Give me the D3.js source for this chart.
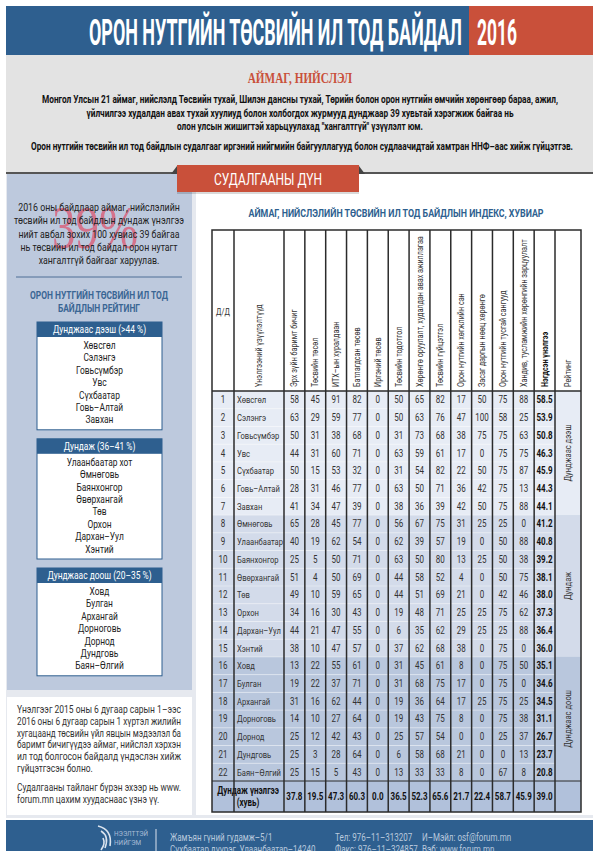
<!DOCTYPE html>
<html>
<head>
<meta charset="utf-8">
<script src="https://cdn.jsdelivr.net/npm/d3@7.9.0/dist/d3.min.js"></script>
<style>
  body { margin: 0; background: #fff; }
  svg { display: block; font-family: Roboto, "Liberation Sans", sans-serif; }
</style>
</head>
<body>
<div id="chart"></div>
<script>
// =========================================
// DATA
// =========================================
const provinces = ["Хөвсгөл", "Сэлэнгэ", "Говьсүмбэр", "Увс", "Сүхбаатар", "Говь–Алтай", "Завхан",
  "Өмнөговь", "Улаанбаатар", "Баянхонгор", "Өвөрхангай", "Төв", "Орхон", "Дархан–Уул", "Хэнтий",
  "Ховд", "Булган", "Архангай", "Дорноговь", "Дорнод", "Дундговь", "Баян–Өлгий"];

const indicators = ["Эрх зүйн баримт бичиг", "Төсвийн төсөл", "ИТХ–ын хуралдаан", "Батлагдсан төсөв",
  "Иргэний төсөв", "Төсвийн тодотгол", "Хөрөнгө оруулалт,  худалдан авах ажиллагаа", "Төсвийн гүйцэтгэл",
  "Орон нутгийн хөгжлийн сан", "Засаг даргын нөөц хөрөнгө", "Орон нутгийн тусгай сангууд",
  "Хандив, тусламжийн хөрөнгийн зарцуулалт"];

const scores = [
  [58, 45, 91, 82, 0, 50, 65, 82, 17, 50, 75, 88],
  [63, 29, 59, 77, 0, 50, 63, 76, 47, 100, 58, 25],
  [50, 31, 38, 68, 0, 31, 73, 68, 38, 75, 75, 63],
  [44, 31, 60, 71, 0, 63, 59, 61, 17, 0, 75, 75],
  [50, 15, 53, 32, 0, 31, 54, 82, 22, 50, 75, 87],
  [28, 31, 46, 77, 0, 63, 50, 71, 36, 42, 75, 13],
  [41, 34, 47, 39, 0, 38, 36, 39, 42, 50, 75, 88],
  [65, 28, 45, 77, 0, 56, 67, 75, 31, 25, 25, 0],
  [40, 19, 62, 54, 0, 62, 39, 57, 19, 0, 50, 88],
  [25, 5, 50, 71, 0, 63, 50, 80, 13, 25, 50, 38],
  [51, 4, 50, 69, 0, 44, 58, 52, 4, 0, 50, 75],
  [49, 10, 59, 65, 0, 44, 51, 69, 21, 0, 42, 46],
  [34, 16, 30, 43, 0, 19, 48, 71, 25, 25, 75, 62],
  [44, 21, 47, 55, 0, 6, 35, 62, 29, 25, 25, 88],
  [38, 10, 47, 57, 0, 37, 62, 68, 38, 0, 75, 0],
  [13, 22, 55, 61, 0, 31, 45, 61, 8, 0, 75, 50],
  [19, 22, 37, 71, 0, 31, 68, 75, 17, 0, 75, 0],
  [31, 16, 62, 44, 0, 19, 36, 64, 17, 25, 75, 25],
  [14, 10, 27, 64, 0, 19, 43, 75, 8, 0, 75, 38],
  [25, 12, 42, 43, 0, 25, 57, 54, 0, 0, 25, 37],
  [25, 3, 28, 64, 0, 6, 58, 68, 21, 0, 0, 13],
  [25, 15, 5, 43, 0, 13, 33, 33, 8, 0, 67, 8]
];

const totals = [58.5, 53.9, 50.8, 46.3, 45.9, 44.3, 44.1, 41.2, 40.8, 39.2, 38.1, 38.0,
  37.3, 36.4, 36.0, 35.1, 34.6, 34.5, 31.1, 26.7, 23.7, 20.8];

const averages = [37.8, 19.5, 47.3, 60.3, 0.0, 36.5, 52.3, 65.6, 21.7, 22.4, 58.7, 45.9, 39.0];

// rating groups: label in table, box title, names listed in the left panel, row count
const ratingGroups = [
  { label: "Дунджаас дээш", title: "Дунджаас дээш (>44 %)", size: 7,
    names: ["Хөвсгөл", "Сэлэнгэ", "Говьсүмбэр", "Увс", "Сүхбаатар", "Говь–Алтай", "Завхан"] },
  { label: "Дундаж", title: "Дундаж (36–41 %)", size: 8,
    names: ["Улаанбаатар хот", "Өмнөговь", "Баянхонгор", "Өвөрхангай", "Төв", "Орхон", "Дархан–Уул", "Хэнтий"] },
  { label: "Дунджаас доош", title: "Дунджаас доош  (20–35 %)", size: 7,
    names: ["Ховд", "Булган", "Архангай", "Дорноговь", "Дорнод", "Дундговь", "Баян–Өлгий"] }
];

const introLines = [
  "Монгол Улсын 21 аймаг, нийслэлд Төсвийн тухай, Шилэн дансны тухай, Төрийн болон орон нутгийн өмчийн хөрөнгөөр бараа, ажил,",
  "үйлчилгээ худалдан авах тухай хуулиуд болон холбогдох журмууд  дунджаар 39 хувьтай хэрэгжиж байгаа нь",
  "олон улсын жишигтэй харьцуулахад \"хангалтгүй\" үзүүлэлт юм."
];
const introNote = "Орон нутгийн төсвийн ил тод байдлын судалгааг иргэний нийгмийн байгууллагууд болон судлаачидтай хамтран ННФ–аас хийж гүйцэтгэв.";

const summaryLines = [
  "2016 оны байдлаар аймаг, нийслэлийн",
  "төсвийн ил тод байдлын дундаж үнэлгээ",
  "нийт авбал зохих 100 хувиас 39 байгаа",
  "нь төсвийн ил тод байдал орон нутагт",
  "хангалтгүй байгааг харуулав."
];

const methodLines = [
  "Үнэлгээг 2015 оны 6 дугаар сарын 1–ээс",
  "2016 оны 6 дугаар сарын 1 хүртэл жилийн",
  "хугацаанд төсвийн үйл явцын мэдээлэл ба",
  "баримт бичигүүдээ аймаг, нийслэл хэрхэн",
  "ил тод болгосон байдалд үндэслэн хийж",
  "гүйцэтгэсэн болно."
];
const linkLines = ["Судалгааны тайланг бүрэн эхээр нь www.", "forum.mn цахим хуудаснаас үзнэ үү."];

const footerCols = [
  ["Жамъян гүний гудамж–5/1", "Сүхбаатар дүүрэг, Улаанбаатар–14240"],
  ["Тел: 976–11–313207", "Факс: 976–11–324857"],
  ["И–Мэйл: osf@forum.mn", "Вэб: www.forum.mn"]
];

// =========================================
// COLOURS
// =========================================
const BLUE = "#2e5f8f";
const RED = "#c9503a";
const groupFill = ["#e7ecf5", "#d3dbea", "#b9c7dd"];

const svg = d3.select("#chart").append("svg")
  .attr("width", 600)
  .attr("height", 856);

// =========================================
// HEADER
// =========================================
svg.append("rect").attr("x", 6).attr("y", 6).attr("width", 463).attr("height", 49).attr("fill", BLUE);
svg.append("rect").attr("x", 469).attr("y", 6).attr("width", 124).attr("height", 49).attr("fill", RED);

svg.append("text")
  .attr("x", 89).attr("y", 45)
  .attr("textLength", 373).attr("lengthAdjust", "spacingAndGlyphs")
  .attr("fill", "#fff").style("font-size", "36px").style("font-weight", "bold")
  .text("ОРОН НУТГИЙН ТӨСВИЙН ИЛ ТОД БАЙДАЛ");

svg.append("text")
  .attr("x", 477).attr("y", 45)
  .attr("textLength", 40).attr("lengthAdjust", "spacingAndGlyphs")
  .attr("fill", "#fff").style("font-size", "36px").style("font-weight", "bold")
  .text("2016");

// grey intro block
svg.append("rect").attr("x", 6).attr("y", 55).attr("width", 587).attr("height", 117).attr("fill", "#e3e3e3");

svg.append("text")
  .attr("x", 300).attr("y", 83).attr("text-anchor", "middle")
  .attr("fill", RED)
  .style("font-family", "'Liberation Serif', serif")
  .style("font-size", "14px").style("font-weight", "bold")
  .text("АЙМАГ, НИЙСЛЭЛ");

const introWidths = [516, 427, 246];
svg.append("g").selectAll("text")
  .data(introLines)
  .join("text")
  .attr("x", 300)
  .attr("y", (d, i) => 103 + i * 13.5)
  .attr("text-anchor", "middle")
  .attr("textLength", (d, i) => introWidths[i])
  .attr("lengthAdjust", "spacingAndGlyphs")
  .attr("fill", "#111")
  .style("font-size", "10.5px").style("font-weight", "bold")
  .text(d => d);

svg.append("text")
  .attr("x", 302).attr("y", 150).attr("text-anchor", "middle")
  .attr("textLength", 542).attr("lengthAdjust", "spacingAndGlyphs")
  .attr("fill", "#111")
  .style("font-size", "10.5px").style("font-weight", "bold")
  .text(introNote);

// =========================================
// PANELS
// =========================================
svg.append("rect").attr("x", 6).attr("y", 172).attr("width", 587).attr("height", 646).attr("fill", "#e6e9ef");
svg.append("rect").attr("x", 7).attr("y", 174).attr("width", 185).attr("height", 516).attr("fill", "#bdc9dd");
svg.append("rect").attr("x", 7).attr("y", 697).attr("width", 185).attr("height", 118).attr("fill", "#fff");
svg.append("rect").attr("x", 196).attr("y", 174).attr("width", 397).attr("height", 641).attr("fill", "#fff");
svg.append("rect").attr("x", 6).attr("y", 172).attr("width", 587).attr("height", 2).attr("fill", "#555");

// ribbon
svg.append("path").attr("d", "M171,174 L177,166 L177,174 Z").attr("fill", "#444");
svg.append("path").attr("d", "M365,174 L359,166 L359,174 Z").attr("fill", "#444");
svg.append("rect").attr("x", 177).attr("y", 167).attr("width", 182).attr("height", 27).attr("fill", "rgba(0,0,0,0.15)");
svg.append("rect").attr("x", 177).attr("y", 165).attr("width", 182).attr("height", 27).attr("fill", RED);
svg.append("text")
  .attr("x", 268).attr("y", 185).attr("text-anchor", "middle")
  .attr("textLength", 108).attr("lengthAdjust", "spacingAndGlyphs")
  .attr("fill", "#fff").style("font-size", "16px")
  .text("СУДАЛГААНЫ ДҮН");

// =========================================
// LEFT PANEL
// =========================================
svg.append("text")
  .attr("x", 95).attr("y", 248).attr("text-anchor", "middle")
  .attr("textLength", 86).attr("lengthAdjust", "spacingAndGlyphs")
  .attr("fill", "#d8647e").attr("fill-opacity", 0.85)
  .style("font-family", "'Liberation Serif', serif").style("font-size", "62px")
  .text("39%");

svg.append("g").selectAll("text")
  .data(summaryLines)
  .join("text")
  .attr("x", 99)
  .attr("y", (d, i) => 211 + i * 13.3)
  .attr("text-anchor", "middle")
  .attr("fill", "#222")
  .style("font-size", "11px")
  .text(d => d);

svg.append("line").attr("x1", 16).attr("x2", 182).attr("y1", 277).attr("y2", 277)
  .attr("stroke", "#4f6f96").attr("stroke-width", 1);

svg.append("g").selectAll("text")
  .data(["ОРОН НУТГИЙН ТӨСВИЙН ИЛ ТОД", "БАЙДЛЫН РЕЙТИНГ"])
  .join("text")
  .attr("x", 99)
  .attr("y", (d, i) => 299 + i * 12.5)
  .attr("text-anchor", "middle")
  .attr("fill", "#3a6694")
  .style("font-size", "10.5px").style("font-weight", "bold")
  .text(d => d);

// rating boxes
const boxX = 37, boxW = 125, boxHead = 15, itemH = 12.4;
let boxY = 322;
ratingGroups.forEach(g => {
  const listH = g.names.length * itemH + 6;
  const box = svg.append("g").attr("transform", `translate(${boxX},${boxY})`);
  box.append("rect").attr("width", boxW).attr("height", boxHead + listH)
    .attr("fill", "#fff").attr("stroke", BLUE).attr("stroke-width", 1);
  box.append("rect").attr("width", boxW).attr("height", boxHead).attr("fill", BLUE);
  box.append("text")
    .attr("x", boxW / 2).attr("y", 11).attr("text-anchor", "middle")
    .attr("fill", "#fff").style("font-size", "10.5px")
    .text(g.title);
  box.selectAll(".item")
    .data(g.names)
    .join("text")
    .attr("class", "item")
    .attr("x", boxW / 2)
    .attr("y", (d, i) => boxHead + 12 + i * itemH)
    .attr("text-anchor", "middle")
    .attr("fill", "#222").style("font-size", "10.5px")
    .text(d => d);
  boxY += boxHead + listH + 9;
});

// bottom-left notes (justified)
const noteX = 17, noteW = 164;
svg.append("g").selectAll("text")
  .data(methodLines)
  .join("text")
  .attr("x", noteX)
  .attr("y", (d, i) => 713 + i * 11.8)
  .attr("class", (d, i) => i < methodLines.length - 1 ? "just" : null)
  .attr("fill", "#333").style("font-size", "10.5px")
  .text(d => d);

svg.append("g").selectAll("text")
  .data(linkLines)
  .join("text")
  .attr("x", noteX)
  .attr("y", (d, i) => 791 + i * 12)
  .attr("class", (d, i) => i === 0 ? "just" : null)
  .attr("fill", "#333").style("font-size", "10.5px")
  .text(d => d);

// =========================================
// TABLE
// =========================================
svg.append("text")
  .attr("x", 396).attr("y", 217).attr("text-anchor", "middle")
  .attr("textLength", 295).attr("lengthAdjust", "spacingAndGlyphs")
  .attr("fill", BLUE).style("font-size", "11.5px").style("font-weight", "bold")
  .text("АЙМАГ, НИЙСЛЭЛИЙН ТӨСВИЙН ИЛ ТОД БАЙДЛЫН ИНДЕКС, ХУВИАР");

const tableLeft = 212, nameLeft = 234, numLeft = 284, numRight = 555, tableRight = 581;
const headTop = 230, bodyTop = 391, bodyBottom = 781, avgBottom = 812;

const x = d3.scaleBand()
  .domain(d3.range(indicators.length + 1))
  .range([numLeft, numRight]);

const y = d3.scaleBand()
  .domain(provinces)
  .range([bodyTop, bodyBottom]);

const groupOf = i => {
  let acc = 0;
  for (let g = 0; g < ratingGroups.length; g++) {
    acc += ratingGroups[g].size;
    if (i < acc) return g;
  }
  return ratingGroups.length - 1;
};

const table = svg.append("g");

// row backgrounds
table.selectAll(".row-bg")
  .data(provinces)
  .join("rect")
  .attr("class", "row-bg")
  .attr("x", tableLeft)
  .attr("y", d => y(d))
  .attr("width", tableRight - tableLeft)
  .attr("height", y.bandwidth())
  .attr("fill", (d, i) => groupFill[groupOf(i)]);

// thin row separators
table.selectAll(".row-sep")
  .data(provinces.slice(1))
  .join("line")
  .attr("class", "row-sep")
  .attr("x1", tableLeft).attr("x2", numRight)
  .attr("y1", d => y(d)).attr("y2", d => y(d))
  .attr("stroke", "#fff").attr("stroke-opacity", 0.6).attr("stroke-width", 0.6);

// average row
table.append("rect")
  .attr("x", tableLeft).attr("y", bodyBottom)
  .attr("width", tableRight - tableLeft).attr("height", avgBottom - bodyBottom)
  .attr("fill", "#b1c1db");

// header text
const headerBase = 387;
table.append("text")
  .attr("x", (tableLeft + nameLeft) / 2).attr("y", 315).attr("text-anchor", "middle")
  .attr("fill", "#333").style("font-size", "9px")
  .text("Д/Д");

const rotated = (cx, label, bold) => table.append("text")
  .attr("transform", `translate(${cx + 3},${headerBase}) rotate(-90)`)
  .attr("fill", bold ? "#111" : "#333")
  .style("font-size", "9px")
  .style("font-weight", bold ? "bold" : "normal")
  .text(label);

rotated((nameLeft + numLeft) / 2, "Үнэлгээний үзүүлэлтүүд");
indicators.forEach((h, i) => rotated(x(i) + x.bandwidth() / 2, h));
rotated(x(indicators.length) + x.bandwidth() / 2, "Нэгдсэн үнэлгээ", true);
rotated((numRight + tableRight) / 2, "Рейтинг");

// body cells
const rows = table.selectAll(".row")
  .data(provinces)
  .join("g")
  .attr("class", "row")
  .attr("transform", d => `translate(0,${y(d) + y.bandwidth() / 2 + 3.5})`);

rows.append("text")
  .attr("x", (tableLeft + nameLeft) / 2).attr("text-anchor", "middle")
  .attr("fill", "#333").style("font-size", "10px")
  .text((d, i) => i + 1);

rows.append("text")
  .attr("x", nameLeft + 3)
  .attr("fill", "#333").style("font-size", "9.5px")
  .text(d => d);

rows.selectAll(".v")
  .data((d, i) => scores[i].concat([totals[i]]).map((v, j) => ({ v, j })))
  .join("text")
  .attr("class", "v")
  .attr("x", d => x(d.j) + x.bandwidth() / 2)
  .attr("text-anchor", "middle")
  .attr("fill", d => d.j === indicators.length ? "#111" : "#333")
  .style("font-size", "10px")
  .style("font-weight", d => d.j === indicators.length ? "bold" : "normal")
  .text(d => d.j === indicators.length ? d3.format(".1f")(d.v) : d.v);

// average row text
table.append("text")
  .attr("x", (tableLeft + numLeft) / 2).attr("y", bodyBottom + 13).attr("text-anchor", "middle")
  .attr("fill", "#111").style("font-size", "10px").style("font-weight", "bold")
  .text("Дундаж үнэлгээ");
table.append("text")
  .attr("x", (tableLeft + numLeft) / 2).attr("y", bodyBottom + 25).attr("text-anchor", "middle")
  .attr("fill", "#111").style("font-size", "10px").style("font-weight", "bold")
  .text("(хувь)");

table.selectAll(".avg")
  .data(averages)
  .join("text")
  .attr("class", "avg")
  .attr("x", (d, j) => x(j) + x.bandwidth() / 2)
  .attr("y", (bodyBottom + avgBottom) / 2 + 3.5)
  .attr("text-anchor", "middle")
  .attr("fill", "#111").style("font-size", "10px").style("font-weight", "bold")
  .text(d => d3.format(".1f")(d));

// rating group labels (merged cells)
let start = 0;
ratingGroups.forEach((g, gi) => {
  const top = y(provinces[start]);
  const bottom = y(provinces[start + g.size - 1]) + y.bandwidth();
  table.append("rect")
    .attr("x", numRight).attr("y", top)
    .attr("width", tableRight - numRight).attr("height", bottom - top)
    .attr("fill", groupFill[gi]);
  table.append("text")
    .attr("transform", `translate(${(numRight + tableRight) / 2 + 3},${(top + bottom) / 2}) rotate(-90)`)
    .attr("text-anchor", "middle")
    .attr("fill", "#333").style("font-size", "9.5px")
    .text(g.label);
  start += g.size;
});

// grid lines
const vLines = [nameLeft, ...x.domain().map(j => x(j)), numRight];
table.selectAll(".vline")
  .data(vLines)
  .join("line")
  .attr("class", "vline")
  .attr("x1", d => d).attr("x2", d => d)
  .attr("y1", headTop).attr("y2", avgBottom)
  .attr("stroke", "#2b2b2b").attr("stroke-width", 1.5);

table.append("line")
  .attr("x1", tableLeft).attr("x2", tableRight)
  .attr("y1", bodyTop).attr("y2", bodyTop)
  .attr("stroke", "#2b2b2b").attr("stroke-width", 1.5);
table.append("line")
  .attr("x1", tableLeft).attr("x2", tableRight)
  .attr("y1", bodyBottom).attr("y2", bodyBottom)
  .attr("stroke", "#2b2b2b").attr("stroke-width", 1);
table.append("rect")
  .attr("x", tableLeft).attr("y", headTop)
  .attr("width", tableRight - tableLeft).attr("height", avgBottom - headTop)
  .attr("fill", "none").attr("stroke", "#2b2b2b").attr("stroke-width", 1.5);

// =========================================
// FOOTER
// =========================================
svg.append("clipPath").attr("id", "footclip")
  .append("rect").attr("x", 6).attr("y", 820).attr("width", 587).attr("height", 31);

const foot = svg.append("g").attr("clip-path", "url(#footclip)");
foot.append("rect").attr("x", 6).attr("y", 820).attr("width", 587).attr("height", 31).attr("fill", BLUE);

// logo swirl
foot.append("path")
  .attr("d", "M98,826 C106,828 112,834 110,846 M101,831 C106,834 108,840 105,848 M103,838 C105,842 104,846 101,850")
  .attr("fill", "none").attr("stroke", "#dbe4ef").attr("stroke-width", 1.6);

foot.append("g").selectAll("text")
  .data(["НЭЭЛТТЭЙ", "НИЙГЭМ"])
  .join("text")
  .attr("x", 114)
  .attr("y", (d, i) => 836 + i * 9)
  .attr("fill", "#a9bdd6").style("font-size", "8px")
  .text(d => d);

foot.append("line").attr("x1", 156).attr("x2", 156).attr("y1", 829).attr("y2", 851)
  .attr("stroke", "#dbe4ef").attr("stroke-width", 1);

const footX = [170, 335, 422];
footerCols.forEach((col, c) => {
  foot.append("g").selectAll("text")
    .data(col)
    .join("text")
    .attr("x", footX[c])
    .attr("y", (d, i) => 841 + i * 12)
    .attr("fill", "#b9c9dd").style("font-size", "10px")
    .text(d => d);
});

// =========================================
// CONDENSE: emulate the narrow typeface of the original
// =========================================
svg.selectAll("text").each(function () {
  const t = d3.select(this);
  if (t.attr("textLength") != null) return;
  const natural = this.getComputedTextLength();
  if (t.classed("just")) {
    t.attr("textLength", noteW).attr("lengthAdjust", "spacingAndGlyphs");
  } else {
    t.attr("textLength", natural * 0.8).attr("lengthAdjust", "spacingAndGlyphs");
  }
});
</script>
</body>
</html>
